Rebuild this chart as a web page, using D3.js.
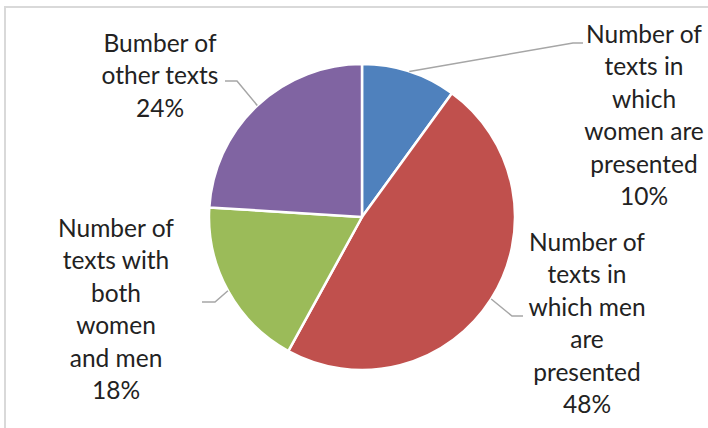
<!DOCTYPE html>
<html>
<head>
<meta charset="utf-8">
<script src="https://cdn.jsdelivr.net/npm/d3@7"></script>
<style>
  body { margin: 0; background: #fff; }
  svg { display: block; }
</style>
</head>
<body>
<svg width="708" height="428"></svg>
<script>
// Data used to build chart
const labels = [
  ['Number of', 'texts in', 'which', 'women are', 'presented'],
  ['Number of', 'texts in', 'which men', 'are', 'presented'],
  ['Number of', 'texts with', 'both', 'women', 'and men'],
  ['Bumber of', 'other texts']
]
const values = [10, 48, 18, 24]
const colors = ['#4f81bd', '#c0504d', '#9bbb59', '#8064a2']

// label layout: elbow point, text centre x, first baseline (relative to pie centre)
const labelLayout = [
  {elbow: [211, -174], end: [221, -174], tx: 282, ty: -174},
  {elbow: [150, 99], end: [161, 99], tx: 225, ty: 34},
  {elbow: [-147, 85], end: [-160, 85], tx: -246, ty: 20},
  {elbow: [-125, -136], end: [-137, -136], tx: -202, ty: -165}
]

const svg = d3.select('svg')
const cx = 362
const cy = 217
const r = 153
const lineH = 32.4

// chart frame
svg.append('rect')
  .attr('x', 5).attr('y', 7)
  .attr('width', 710).attr('height', 430)
  .attr('fill', 'none')
  .attr('stroke', '#d9d9d9')
  .attr('stroke-width', 2)

const g = svg.append('g').attr('transform', `translate(${cx},${cy})`)

const pie = d3.pie().sort(null).value(d => d)
const arcs = pie(values)
const arc = d3.arc().innerRadius(0).outerRadius(r)

g.selectAll('path.slice')
  .data(arcs)
  .join('path')
  .attr('class', 'slice')
  .attr('d', arc)
  .attr('fill', (d, i) => colors[i])
  .attr('stroke', '#fff')
  .attr('stroke-width', 2.5)
  .attr('stroke-linejoin', 'round')

// leader lines start at slice mid-angle on the rim
const total = d3.sum(values)
g.selectAll('polyline.leader')
  .data(arcs)
  .join('polyline')
  .attr('class', 'leader')
  .attr('fill', 'none')
  .attr('stroke', '#a6a6a6')
  .attr('stroke-width', 1.5)
  .attr('points', (d, i) => {
    const a = (d.startAngle + d.endAngle) / 2
    const p = [Math.sin(a) * r, -Math.cos(a) * r]
    const L = labelLayout[i]
    return [p, L.elbow, L.end].map(q => q.join(',')).join(' ')
  })

// labels
const lab = g.selectAll('text.lab')
  .data(arcs)
  .join('text')
  .attr('class', 'lab')
  .attr('text-anchor', 'middle')
  .attr('font-family', 'Lato, "Open Sans", sans-serif')
  .attr('font-size', 24.5)
  .attr('fill', '#222')

lab.each(function (d, i) {
  const L = labelLayout[i]
  const lines = labels[i].concat([Math.round(d.data / total * 100) + '%'])
  d3.select(this).selectAll('tspan')
    .data(lines)
    .join('tspan')
    .attr('x', L.tx)
    .attr('y', (t, j) => L.ty + j * lineH)
    .text(t => t)
})
</script>
</body>
</html>
